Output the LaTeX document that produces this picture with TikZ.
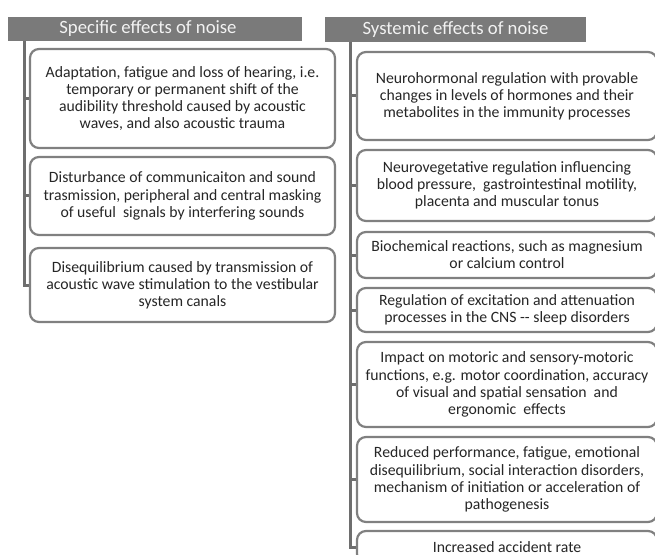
\documentclass[tikz,border=0pt]{standalone}
\usepackage{fontspec}
\setmainfont{Carlito}
\definecolor{hdrgray}{HTML}{7A7A7A}
\definecolor{boxgray}{HTML}{808080}
\definecolor{lingray}{HTML}{6E6E6E}
\definecolor{txt}{HTML}{262626}
\begin{document}
\begin{tikzpicture}[x=1bp,y=-1bp,
  hdr/.style={fill=hdrgray, draw=none, text=white!95!black, inner sep=0pt,
    font=\fontsize{18.8}{20}\selectfont},
  effbox/.style={draw=boxgray, line width=2.2bp, rounded corners=9bp, fill=white,
    inner sep=0pt, align=center, text=txt, font=\fontsize{15.8}{17.2}\selectfont},
  conn/.style={draw=lingray, line width=3bp}
]
\useasboundingbox (0,0) rectangle (655,555);
\begin{scope}
\clip (0,0) rectangle (655,555);
% headers
\node[hdr, minimum width=294bp, minimum height=24bp] (hl) at (155,29) {Specific effects of noise\hspace*{14bp}};
\node[hdr, minimum width=261bp, minimum height=25bp] (hr) at (455.5,29.5) {Systemic effects of noise};
\coordinate (lv) at (24,41);
\coordinate (rv) at (350,42);
% left boxes
\node[effbox, minimum width=305bp, minimum height=99bp] (L1) at (182.5,98.5)
  {Adaptation, fatigue and loss of hearing, i.e.\\temporary or permanent shift of the\\audibility threshold caused by acoustic\\waves, and also acoustic trauma};
\node[effbox, minimum width=305bp, minimum height=78bp] (L2) at (182.5,196)
  {Disturbance of communicaiton and sound\\trasmission, peripheral and central masking\\of useful\ \ signals by interfering sounds};
\node[effbox, minimum width=305bp, minimum height=74bp] (L3) at (182.5,285)
  {Disequilibrium caused by transmission of\\acoustic wave stimulation to the vestibular\\system canals};
% right boxes
\node[effbox, minimum width=300bp, minimum height=88bp] (R1) at (507,96)
  {Neurohormonal regulation with provable\\changes in levels of hormones and their\\metabolites in the immunity processes};
\node[effbox, minimum width=300bp, minimum height=71bp] (R2) at (507,185.5)
  {Neurovegetative regulation influencing\\blood pressure,\ \ gastrointestinal motility,\\placenta and muscular tonus};
\node[effbox, minimum width=300bp, minimum height=46bp] (R3) at (507,255)
  {Biochemical reactions, such as magnesium\\or calcium control};
\node[effbox, minimum width=300bp, minimum height=44bp] (R4) at (507,310)
  {Regulation of excitation and attenuation\\processes in the CNS -{}- sleep disorders};
\node[effbox, minimum width=300bp, minimum height=85bp] (R5) at (507,384.5)
  {Impact on motoric and sensory-motoric\\functions, e.g. motor coordination, accuracy\\of visual and spatial sensation\ \ and\\ergonomic\ \ effects};
\node[effbox, minimum width=300bp, minimum height=85bp] (R6) at (507,479.5)
  {Reduced performance, fatigue, emotional\\disequilibrium, social interaction disorders,\\mechanism of initiation or acceleration of\\pathogenesis};
\node[effbox, minimum width=300bp, minimum height=32bp] (R7) at (507,547)
  {Increased accident rate};
% connectors
\draw[conn] (lv) |- (L3.west);
\draw[conn] (lv |- L1.west) -- (L1.west);
\draw[conn] (lv |- L2.west) -- (L2.west);
\draw[conn] (rv) |- (R7.west);
\foreach \b in {R1,R2,R3,R4,R5,R6}
  \draw[conn] (rv |- \b.west) -- (\b.west);
\end{scope}
\end{tikzpicture}
\end{document}
